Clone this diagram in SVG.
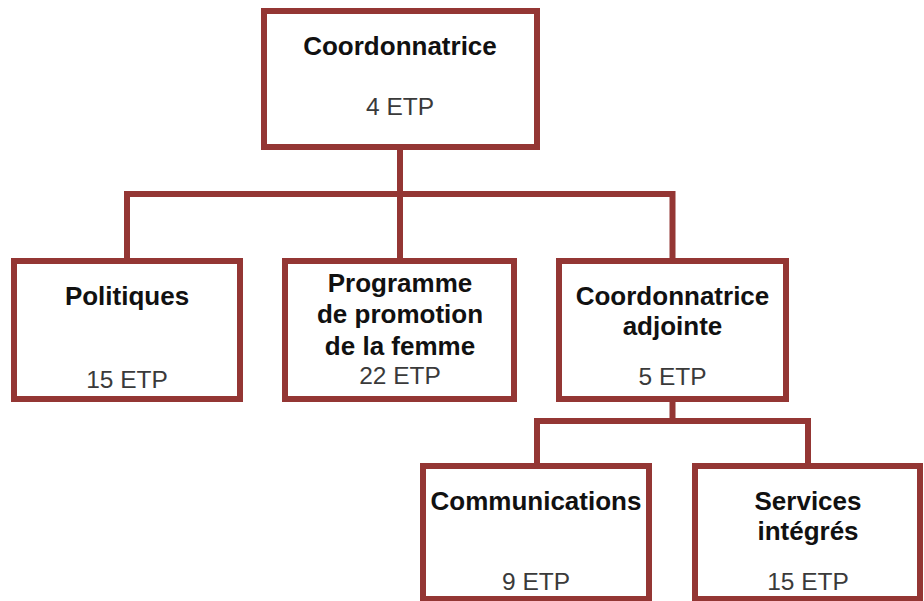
<svg xmlns="http://www.w3.org/2000/svg" width="924" height="601" viewBox="0 0 924 601">
<style>
.box{fill:#ffffff;stroke:#943634;stroke-width:6}
.conn{fill:none;stroke:#943634;stroke-width:6}
.t{font-family:"Liberation Sans",Arial,sans-serif;font-weight:bold;font-size:26px;fill:#111111;text-anchor:middle}
.n{font-family:"Liberation Sans",Arial,sans-serif;font-size:24.5px;fill:#3a3a3a;text-anchor:middle}
</style>
<rect width="924" height="601" fill="#ffffff"/>
<g id="connectors">
<path class="conn" d="M400 147 V194 M127 261 V194 H672.5 V261 M400 194 V261"/>
<path class="conn" d="M672.5 399 V421 M537 466 V421 H808 V466"/>
</g>
<g id="coordonnatrice">
<rect class="box" x="264" y="11" width="273" height="136"/>
<text class="t" x="400" y="55">Coordonnatrice</text>
<text class="n" x="400" y="115">4 ETP</text>
</g>
<g id="politiques">
<rect class="box" x="14" y="261" width="226" height="138"/>
<text class="t" x="127" y="305">Politiques</text>
<text class="n" x="127" y="388">15 ETP</text>
</g>
<g id="programme">
<rect class="box" x="285" y="261" width="229" height="138"/>
<text class="t" x="400" y="292">Programme</text>
<text class="t" x="400" y="323">de promotion</text>
<text class="t" x="400" y="355">de la femme</text>
<text class="n" x="400" y="384">22 ETP</text>
</g>
<g id="adjointe">
<rect class="box" x="559" y="261" width="227" height="138"/>
<text class="t" x="672.5" y="305">Coordonnatrice</text>
<text class="t" x="672.5" y="335">adjointe</text>
<text class="n" x="672.5" y="385">5 ETP</text>
</g>
<g id="communications">
<rect class="box" x="423" y="466" width="226" height="133"/>
<text class="t" x="536" y="510">Communications</text>
<text class="n" x="536" y="590">9 ETP</text>
</g>
<g id="services">
<rect class="box" x="695" y="466" width="225" height="133"/>
<text class="t" x="808" y="510">Services</text>
<text class="t" x="808" y="540">intégrés</text>
<text class="n" x="808" y="590">15 ETP</text>
</g>
</svg>
